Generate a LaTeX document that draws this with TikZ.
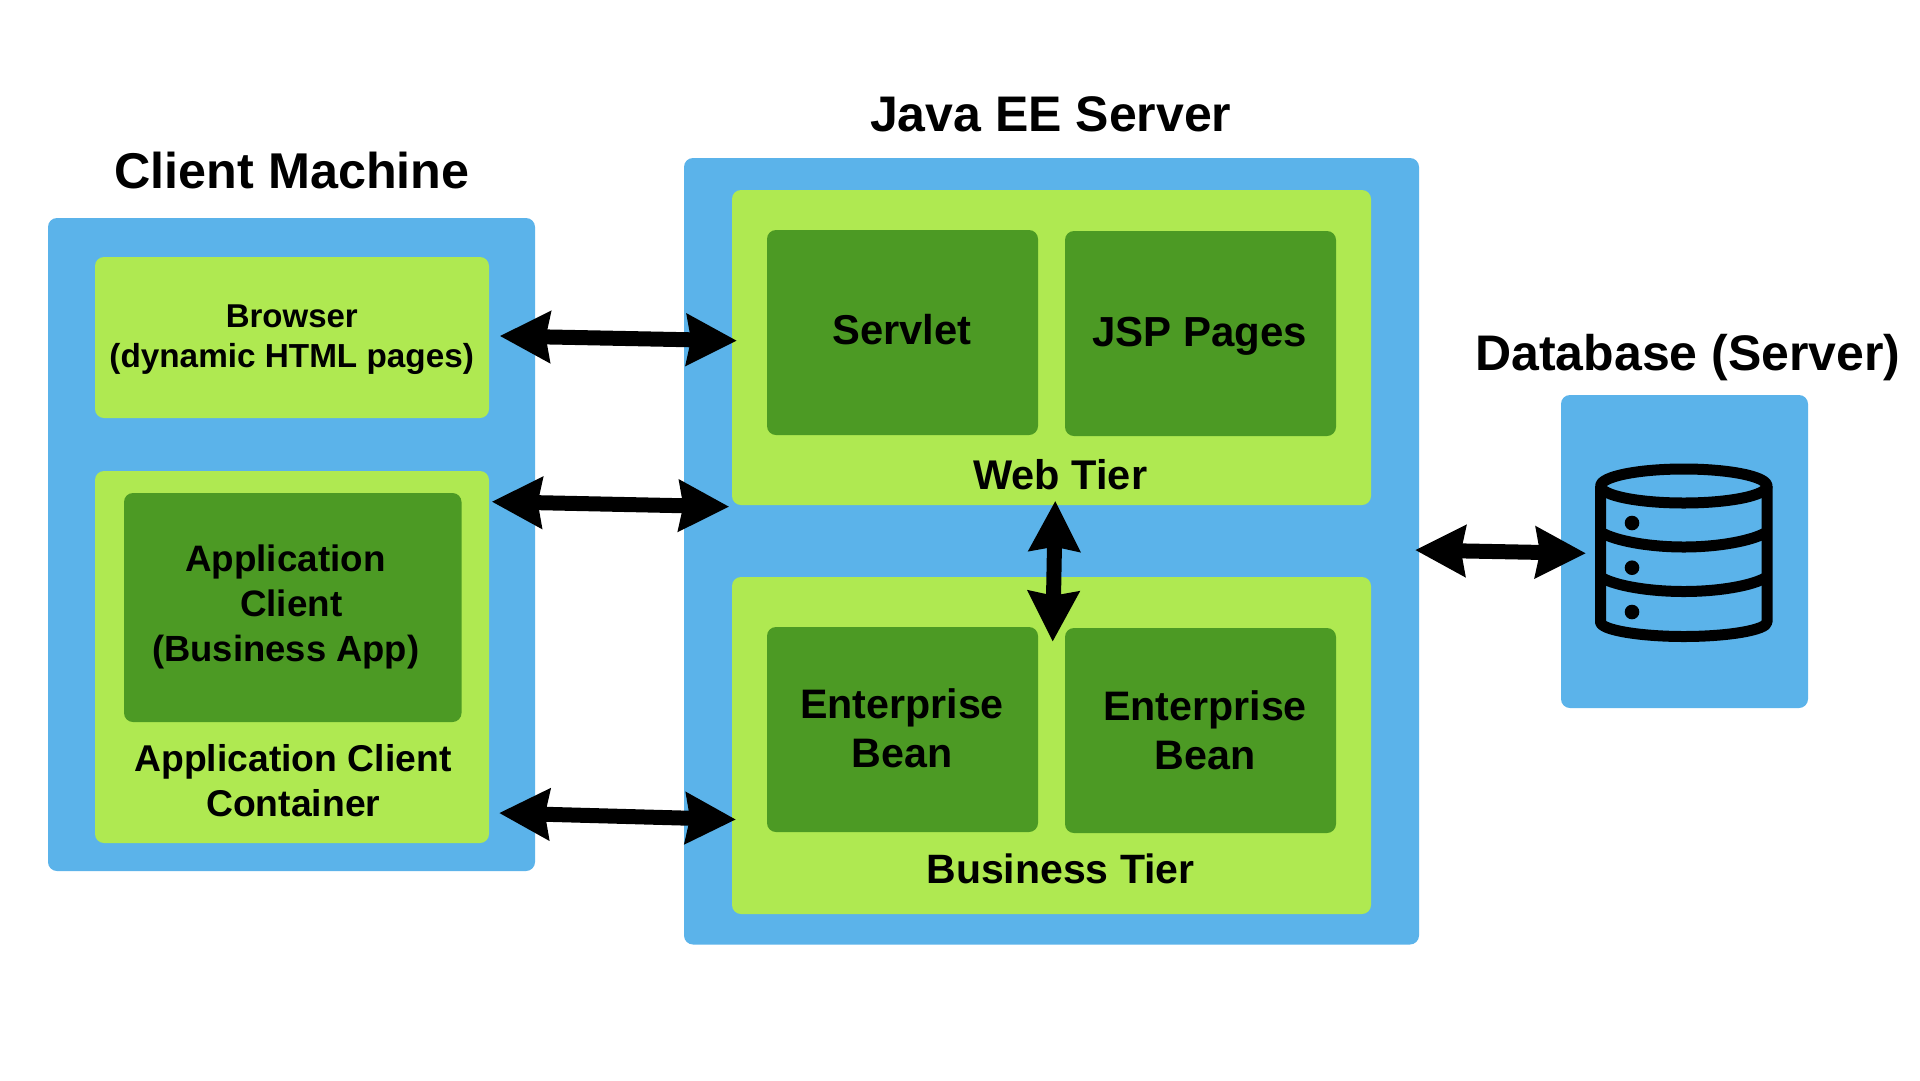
\documentclass[tikz,border=0pt]{standalone}
\usepackage{fontspec}
\setmainfont{Liberation Sans}
\usetikzlibrary{arrows.meta}
\definecolor{panelblue}{HTML}{5BB3EA}
\definecolor{tierlime}{HTML}{AFE951}
\definecolor{compgreen}{HTML}{4C9A24}
\newcommand{\fsz}[1]{\fontsize{#1}{#1}\selectfont\bfseries}
\tikzset{
  x=1pt,y=-1pt,
  panel/.style={fill=panelblue,rounded corners=9pt},
  tier/.style={fill=tierlime,rounded corners=9pt},
  comp/.style={fill=compgreen,rounded corners=9pt},
  label/.style={inner sep=0pt,text=black,anchor=base},
  biarrow/.style={line width=15pt,
    {Stealth[length=50pt,width=50pt,inset=4pt]}-{Stealth[length=50pt,width=50pt,inset=4pt]}},
  icon/.style={line width=11pt,draw=black,line join=round}
}
\begin{document}
\begin{tikzpicture}
\useasboundingbox (0,0) rectangle (1920,1080);
\fill[white] (0,0) rectangle (1920,1080);
% panels
\path[panel] (48,218) rectangle (535,871);
\path[panel] (684,158) rectangle (1419,944.5);
\path[panel] (1561,395) rectangle (1808,708);
% tiers
\path[tier] (95,257) rectangle (489,418);
\path[tier] (95,471) rectangle (489,843);
\path[tier] (732,190) rectangle (1371,505);
\path[tier] (732,577) rectangle (1371,914);
% components
\path[comp] (124,493) rectangle (461.5,722);
\path[comp] (767,230) rectangle (1038,435);
\path[comp] (1065,231) rectangle (1336,436);
\path[comp] (767,627) rectangle (1038,832);
\path[comp] (1065,628) rectangle (1336,833);
% titles
\node[label,font=\fsz{50}] (tjava) at (1050.8,131) {Java EE Server};
\node[label,font=\fsz{50.3}] (tclient) at (292,188.5) {Client Machine};
\node[label,font=\fsz{50}] (tdb) at (1688,370) {Database (Server)};
% labels
\node[label,font=\fsz{33}] (lbrowser) at (291.8,327.5) {Browser};
\node[label,font=\fsz{33.3}] (lbrowser2) at (291.7,367) {(dynamic HTML pages)};
\node[label,font=\fsz{36.8}] (lac1) at (285.3,571.7) {Application};
\node[label,font=\fsz{36.8}] (lac2) at (291.3,616.7) {Client};
\node[label,font=\fsz{36.4}] (lac3) at (285.8,661.7) {(Business App)};
\node[label,font=\fsz{37.3}] (lacc1) at (293,771.7) {Application Client};
\node[label,font=\fsz{37.3}] (lacc2) at (293.3,816.7) {Container};
\node[label,font=\fsz{41.7}] (lservlet) at (901.8,344.3) {Servlet};
\node[label,font=\fsz{42}] (ljsp) at (1199.8,346.7) {JSP Pages};
\node[label,font=\fsz{41.5}] (lweb) at (1060.3,489.3) {Web Tier};
\node[label,font=\fsz{41.2}] (le1a) at (902,718.3) {Enterprise};
\node[label,font=\fsz{41.2}] (le1b) at (902,767.7) {Bean};
\node[label,font=\fsz{41.2}] (le2a) at (1205,720) {Enterprise};
\node[label,font=\fsz{41.2}] (le2b) at (1205.2,769.3) {Bean};
\node[label,font=\fsz{41}] (lbus) at (1060.5,883.3) {Business Tier};
% database icon
\draw[icon] (1683.8,486) ellipse [x radius=83.2,y radius=17];
\draw[icon] (1600.5,486) -- (1600.5,622)
  .. controls (1600.5,630) and (1640,636.5) .. (1683.8,636.5)
  .. controls (1728,636.5) and (1767,630) .. (1767,622) -- (1767,486);
\draw[icon] (1600.5,532) .. controls (1615,541) and (1650,547) .. (1683.8,547)
  .. controls (1718,547) and (1752,541) .. (1767,532);
\draw[icon] (1600.5,577) .. controls (1615,586) and (1650,591.5) .. (1683.8,591.5)
  .. controls (1718,591.5) and (1752,586) .. (1767,577);
\fill (1632,523) circle (7.3);
\fill (1632,567.7) circle (7.3);
\fill (1632,612) circle (7.3);
% connectors
\coordinate (a1l) at (499.7,336);
\coordinate (a1r) at (737,340.7);
\coordinate (a2l) at (491.7,501.7);
\coordinate (a2r) at (729.3,506.7);
\coordinate (a3l) at (499,813);
\coordinate (a3r) at (736,819.5);
\coordinate (a4l) at (1415,550);
\coordinate (a4r) at (1586,553.3);
\coordinate (a5t) at (1055.3,500.7);
\coordinate (a5b) at (1052.7,641.7);
\draw[biarrow] (a1l) -- (a1r);
\draw[biarrow] (a2l) -- (a2r);
\draw[biarrow] (a3l) -- (a3r);
\draw[biarrow] (a4l) -- (a4r);
\draw[biarrow] (a5t) -- (a5b);
\end{tikzpicture}
\end{document}
